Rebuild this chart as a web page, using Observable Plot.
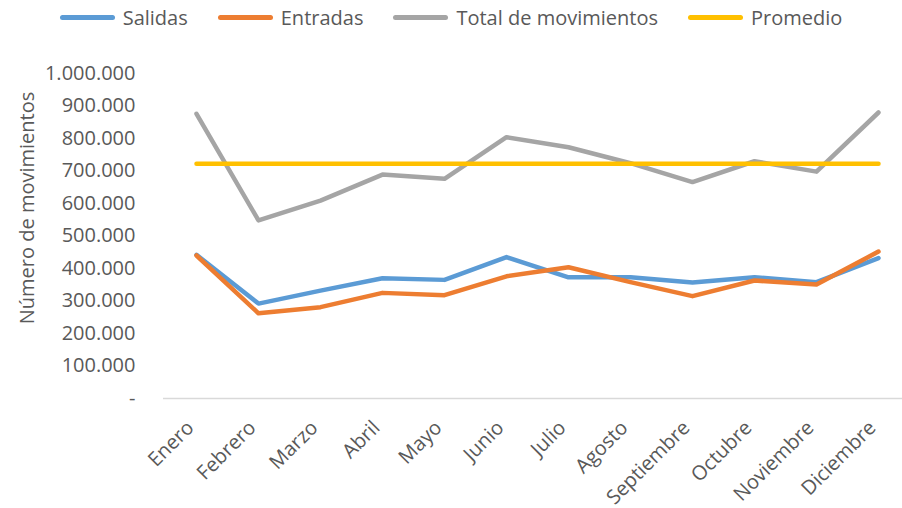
<!DOCTYPE html>
<html><head><meta charset="utf-8">
<script src="https://cdn.jsdelivr.net/npm/d3@7"></script>
<script src="https://cdn.jsdelivr.net/npm/@observablehq/plot@0.6"></script>
<style>
body{margin:0;background:#fff;font-family:"Open Sans",sans-serif;}
#legend{height:35px;display:flex;justify-content:center;align-items:center;gap:30px;color:#595959;font-size:20px;}
.item{display:flex;align-items:center;gap:8px}
.sw{width:55px;height:5px;border-radius:3px}
</style></head><body>
<div id="legend"></div><div id="chart"></div>
<script>
const meses = ["Enero","Febrero","Marzo","Abril","Mayo","Junio","Julio","Agosto","Septiembre","Octubre","Noviembre","Diciembre"];
const salidas = [442000,292000,332000,370000,365000,435000,373000,373000,357000,373000,358000,432000];
const entradas = [440000,262000,281000,325000,318000,376000,404000,358000,315000,363000,351000,452000];
const total = [876000,548000,609000,689000,676000,804000,773000,724000,666000,730000,698000,880000];
const promedio = 722000;
const series = ["Salidas","Entradas","Total de movimientos","Promedio"];
const colores = ["#5B9BD5","#ED7D31","#A5A5A5","#FFC000"];
const yTicks = [0,100000,200000,300000,400000,500000,600000,700000,800000,900000,1000000];

const data = [];
meses.forEach((m,i)=>data.push({mes:m, valor:salidas[i], serie:"Salidas"}));
meses.forEach((m,i)=>data.push({mes:m, valor:entradas[i], serie:"Entradas"}));
meses.forEach((m,i)=>data.push({mes:m, valor:total[i], serie:"Total de movimientos"}));
meses.forEach((m)=>data.push({mes:m, valor:promedio, serie:"Promedio"}));

const loc = d3.formatLocale({decimal:",", thousands:".", grouping:[3], currency:["",""]});
const fmt = loc.format(",");

const legend = document.getElementById("legend");
series.forEach((s,i)=>{
  const it = document.createElement("div"); it.className="item";
  const sw = document.createElement("div"); sw.className="sw"; sw.style.background=colores[i];
  const tx = document.createElement("span"); tx.textContent=s;
  it.appendChild(sw); it.appendChild(tx); legend.appendChild(it);
});

const chart = Plot.plot({
  width:902, height:473,
  marginTop:38, marginBottom:110, marginLeft:163, marginRight:0,
  style:{fontFamily:"Open Sans", fontSize:"20px", color:"#595959", background:"#fff", overflow:"visible"},
  x:{type:"point", domain:meses, range:[195,878], padding:0, label:null},
  y:{domain:[0,1000000], ticks:yTicks, tickFormat:d=>d===0?"-":fmt(d), label:null},
  color:{domain:series, range:colores},
  marks:[
    Plot.axisY({ticks:yTicks, tickFormat:d=>d===0?"-":fmt(d), tickSize:0, tickPadding:28, label:null, fill:"#595959"}),
    Plot.axisX({tickRotate:-45, tickSize:0, tickPadding:26, dx:-6, label:null, fill:"#595959"}),
    Plot.ruleY([0],{stroke:"#D9D9D9", strokeWidth:1.5}),
    Plot.lineY(data,{x:"mes", y:"valor", z:"serie", stroke:"serie", strokeWidth:4.5, strokeLinecap:"round", strokeLinejoin:"round"}),
    Plot.text(["Número de movimientos"],{text:d=>d, frameAnchor:"left", textAnchor:"middle", rotate:-90, dx:-136, dy:-28, fill:"#595959", fontSize:20})
  ]
});
document.getElementById("chart").appendChild(chart);
</script>
</body></html>
